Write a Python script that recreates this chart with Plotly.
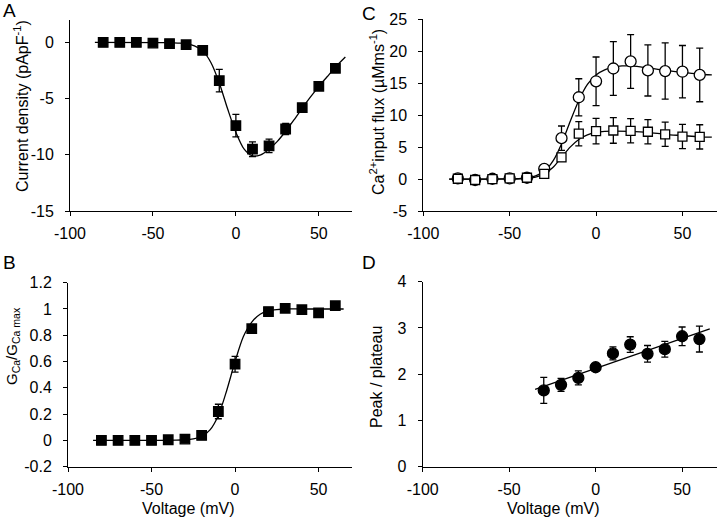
import plotly.graph_objects as go

# ---------------- data ----------------
volt = [-80, -70, -60, -50, -40, -30, -20, -10, 0, 10, 20, 30, 40, 50, 60]

# Panel A: current density (pA/pF)
cd_mean = [0.0, 0.0, 0.0, -0.05, -0.1, -0.2, -0.7, -3.4, -7.4, -9.5, -9.2, -7.7, -5.8, -3.9, -2.3]
cd_err = [0.05, 0.05, 0.05, 0.05, 0.05, 0.1, 0.15, 1.0, 1.0, 0.65, 0.6, 0.5, 0.2, 0.15, 0.1]
cd_fit_v = [-85, -40, -35, -30, -25, -20, -15, -10, -5, 0, 5, 10, 15, 20, 25, 30, 35, 40, 45, 50, 55, 60, 66]
cd_fit = [0.0, -0.02, -0.05, -0.1, -0.3, -0.75, -1.8, -3.6, -5.9, -8.0, -9.5, -10.1, -10.0, -9.5, -8.8, -7.9, -6.9, -5.85, -4.85, -3.9, -3.05, -2.2, -1.3]

# Panel B: normalised conductance
g_mean = [0.0, 0.0, 0.0, 0.0, 0.005, 0.01, 0.038, 0.22, 0.58, 0.85, 0.98, 1.005, 0.995, 0.97, 1.025]
g_err = [0.005, 0.005, 0.005, 0.005, 0.005, 0.01, 0.01, 0.055, 0.06, 0.03, 0.01, 0.01, 0.01, 0.01, 0.01]
g_fit_v = [-85, -35, -30, -25, -20, -15, -10, -5, 0, 5, 10, 15, 20, 25, 30, 40, 65]
g_fit = [0.0, 0.002, 0.005, 0.012, 0.03, 0.08, 0.19, 0.38, 0.6, 0.79, 0.9, 0.96, 0.985, 0.995, 1.0, 1.0, 1.0]

# Panel C: Ca2+ input flux (uM/ms)
fluxA_mean = [0.1, -0.15, 0.05, 0.1, 0.2, 1.6, 6.4, 12.8, 15.3, 17.3, 18.4, 17.0, 16.9, 16.8, 16.3]
fluxA_err = [0.3, 0.3, 0.3, 0.3, 0.4, 0.5, 1.9, 2.9, 3.8, 4.2, 4.2, 4.0, 4.4, 4.1, 4.2]
fluxB_mean = [0.05, -0.15, 0.0, 0.1, 0.2, 0.8, 3.4, 7.1, 7.5, 7.6, 7.55, 7.4, 7.0, 6.65, 6.6]
fluxB_err = [0.2, 0.2, 0.2, 0.2, 0.2, 0.3, 0.6, 1.9, 2.0, 2.0, 1.9, 1.9, 1.9, 1.9, 1.9]
fluxA_fit_v = [-85, -45, -40, -35, -30, -25, -20, -15, -10, -5, 0, 5, 10, 15, 20, 30, 40, 50, 60, 67]
fluxA_fit = [0.0, 0.05, 0.2, 0.5, 1.2, 2.8, 5.5, 9.0, 12.3, 14.8, 16.3, 17.1, 17.5, 17.7, 17.7, 17.4, 17.0, 16.7, 16.4, 16.3]
fluxB_fit_v = [-85, -40, -35, -30, -25, -20, -15, -10, -5, 0, 5, 10, 20, 30, 40, 50, 60, 67]
fluxB_fit = [0.0, 0.1, 0.3, 0.8, 1.8, 3.4, 5.0, 6.2, 6.9, 7.3, 7.45, 7.5, 7.45, 7.3, 7.0, 6.8, 6.6, 6.55]

# Panel D: peak / plateau
pp_volt = [-30, -20, -10, 0, 10, 20, 30, 40, 50, 60]
pp_mean = [1.65, 1.77, 1.92, 2.15, 2.45, 2.64, 2.44, 2.54, 2.82, 2.76]
pp_err = [0.28, 0.14, 0.15, 0.05, 0.14, 0.17, 0.18, 0.17, 0.2, 0.28]
pp_fit_v = [-35, 66]
pp_fit = [1.67, 2.98]

# tick values
x_ticks = [-100, -50, 0, 50]
yA_ticks = [0, -5, -10, -15]
yB_ticks = [-0.2, 0, 0.2, 0.4, 0.6, 0.8, 1, 1.2]
yC_ticks = [-5, 0, 5, 10, 15, 20, 25]
yD_ticks = [0, 1, 2, 3, 4]

# ---------------- figure ----------------
W, H = 720, 518
FONT = "Liberation Sans, Arial, sans-serif"
fig = go.Figure()

def err(arr):
    return dict(type="data", array=arr, visible=True, color="black", thickness=1.3, width=3.5)

def line(xv, yv, xa, ya):
    fig.add_trace(go.Scatter(x=xv, y=yv, mode="lines", line=dict(color="black", width=1.3, shape="spline", smoothing=0.8),
                             xaxis=xa, yaxis=ya, showlegend=False, hoverinfo="skip"))

def pts(xv, yv, e, xa, ya, symbol, fill, size):
    fig.add_trace(go.Scatter(x=xv, y=yv, mode="markers", error_y=err(e),
                             marker=dict(symbol=symbol, size=size, color=fill, line=dict(color="black", width=1.3)),
                             xaxis=xa, yaxis=ya, showlegend=False))

# A
line(cd_fit_v, cd_fit, "x", "y")
pts(volt, cd_mean, cd_err, "x", "y", "square", "black", 9.5)
# B
line(g_fit_v, g_fit, "x2", "y2")
pts(volt, g_mean, g_err, "x2", "y2", "square", "black", 9.5)
# C
line(fluxA_fit_v, fluxA_fit, "x3", "y3")
line(fluxB_fit_v, fluxB_fit, "x3", "y3")
pts(volt, fluxA_mean, fluxA_err, "x3", "y3", "circle", "white", 11)
pts(volt, fluxB_mean, fluxB_err, "x3", "y3", "square", "white", 9)
# D
fig.add_trace(go.Scatter(x=pp_fit_v, y=pp_fit, mode="lines", line=dict(color="black", width=1.3),
                         xaxis="x4", yaxis="y4", showlegend=False, hoverinfo="skip"))
pts(pp_volt, pp_mean, pp_err, "x4", "y4", "circle", "black", 11)

def px_x(p):
    return p / W

def px_y(p):
    return 1 - p / H

axis_common = dict(showline=True, linecolor="black", linewidth=1, ticks="outside", ticklen=4,
                   tickcolor="black", tickwidth=1, showgrid=False, zeroline=False, automargin=False,
                   tickfont=dict(size=16, color="black", family=FONT), fixedrange=True)

def xaxis(dom, anchor):
    return dict(axis_common, domain=dom, anchor=anchor, range=[-100, 70], tickvals=x_ticks,
                ticktext=[str(v) for v in x_ticks], ticklabelstandoff=4)

def yaxis(dom, anchor, rng, tv, tt):
    return dict(axis_common, domain=dom, anchor=anchor, range=rng, tickvals=tv, ticktext=tt,
                ticklabelstandoff=8)

fig.update_layout(
    width=W, height=H, margin=dict(l=0, r=0, t=0, b=0, pad=0, autoexpand=False),
    paper_bgcolor="white", plot_bgcolor="white",
    font=dict(family=FONT, size=16, color="black"),
    xaxis=xaxis([px_x(70), px_x(352)], "y"),
    yaxis=yaxis([px_y(211), px_y(20)], "x", [-15, 2], yA_ticks, [str(v) for v in yA_ticks]),
    xaxis2=xaxis([px_x(68), px_x(352)], "y2"),
    yaxis2=yaxis([px_y(466.7), px_y(282.7)], "x2", [-0.2, 1.2], yB_ticks, ["-0.2", "0", "0.2", "0.4", "0.6", "0.8", "1", "1.2"]),
    xaxis3=xaxis([px_x(423.3), px_x(717)], "y3"),
    yaxis3=yaxis([px_y(211), px_y(19.3)], "x3", [-5, 25], yC_ticks, [str(v) for v in yC_ticks]),
    xaxis4=xaxis([px_x(422.7), px_x(716.7)], "y4"),
    yaxis4=yaxis([px_y(466.7), px_y(281.7)], "x4", [0, 4], yD_ticks, [str(v) for v in yD_ticks]),
)

def ann(text, x, y, size=16, angle=0):
    fig.add_annotation(text=text, x=px_x(x), y=px_y(y), xref="paper", yref="paper", showarrow=False,
                       textangle=angle, font=dict(size=size, color="black", family=FONT),
                       xanchor="center", yanchor="middle")

# panel letters
ann("A", 9, 11, size=19)
ann("C", 369, 14, size=19)
ann("B", 9, 262, size=19)
ann("D", 369, 262, size=19)
# y titles
ann("Current density (pApF<sup>-1</sup>)", 21, 106, angle=-90)
ann("G<sub>Ca</sub>/G<sub>Ca max</sub>", 12, 346, size=15, angle=-90)
ann("Ca<sup>2+</sup>input flux (µMms<sup>-1</sup>)", 377, 112, angle=-90)
ann("Peak / plateau", 376, 377, angle=-90)
# x titles
ann("Voltage (mV)", 188, 508)
ann("Voltage (mV)", 553, 508)

fig.write_html("out.html", config={"displayModeBar": False},
               post_script="document.body.style.margin='0';document.body.style.overflow='hidden';")
